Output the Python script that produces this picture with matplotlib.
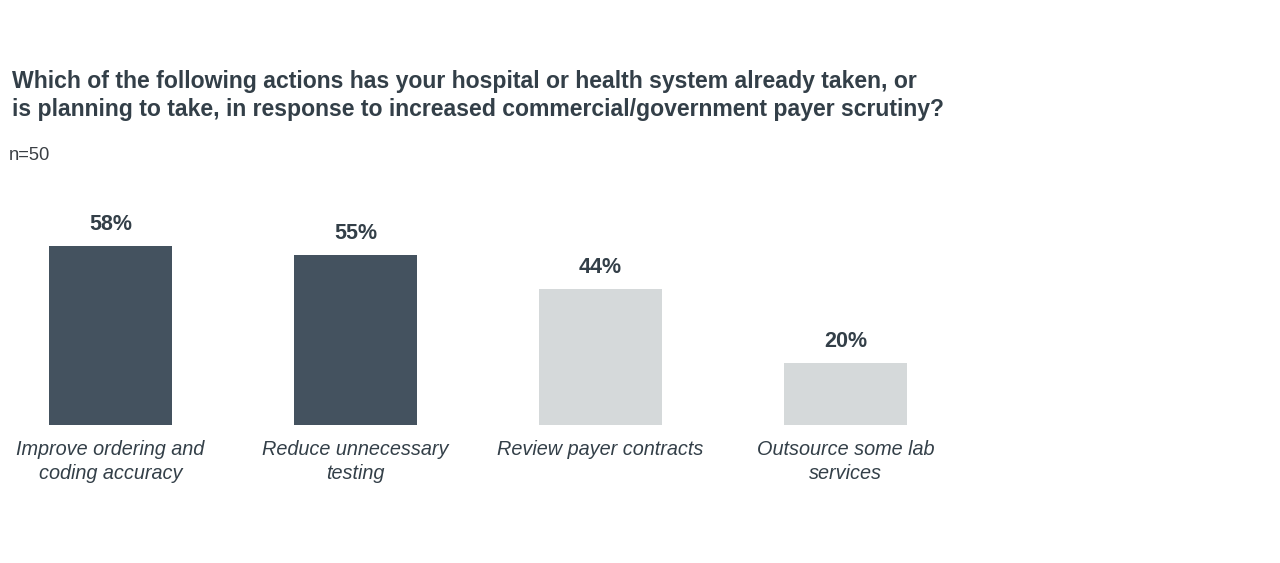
import matplotlib
matplotlib.use("Agg")
import matplotlib.pyplot as plt

plt.rcParams.update({
    "font.family": ["Liberation Sans", "DejaVu Sans"],
})

C_DARK = "#44525f"
C_LIGHT = "#d5d9da"
C_TEXT = "#333f48"

categories = ["Improve ordering and\ncoding accuracy",
              "Reduce unnecessary\ntesting",
              "Review payer contracts",
              "Outsource some lab\nservices"]
values = [58, 55, 44, 20]
highlight = [True, True, False, False]

fig = plt.figure(figsize=(12.8, 5.63), dpi=100)
W, H = 1280, 563
# axes placed in pixels: baseline at y=425 px, 1 category step = 245 px
ax = fig.add_axes([0.25 / W, (H - 425) / H, 992.25 / W, (425 - 208.7) / H])

x = list(range(len(values)))
colors = [C_DARK if h else C_LIGHT for h in highlight]
ax.bar(x, values, width=0.5, color=colors)

for xi, v in zip(x, values):
    ax.annotate(f"{v}%", xy=(xi, v), xytext=(0, 8), textcoords="offset points",
                ha="center", va="bottom", fontsize=15.5, fontweight="bold",
                color=C_TEXT)

for xi, lab in zip(x, categories):
    ax.annotate(lab, xy=(xi, 0), xytext=(0, -11), textcoords="offset points",
                ha="center", va="top", fontsize=14.3, fontstyle="italic",
                color=C_TEXT, linespacing=1.3)

ax.set_xlim(-0.45, 3.6)
ax.set_ylim(0, 70)
ax.axis("off")

fig.text(12 / W, 1 - 70 / H,
         "Which of the following actions has your hospital or health system already taken, or\n"
         "is planning to take, in response to increased commercial/government payer scrutiny?",
         ha="left", va="top", fontsize=16.6, fontweight="bold", color=C_TEXT,
         linespacing=1.3)
fig.text(9 / W, 1 - 147 / H, "n=50", ha="left", va="top", fontsize=13.2,
         color="#3a3f44")

fig.savefig("out.png", dpi=100, facecolor="white")
